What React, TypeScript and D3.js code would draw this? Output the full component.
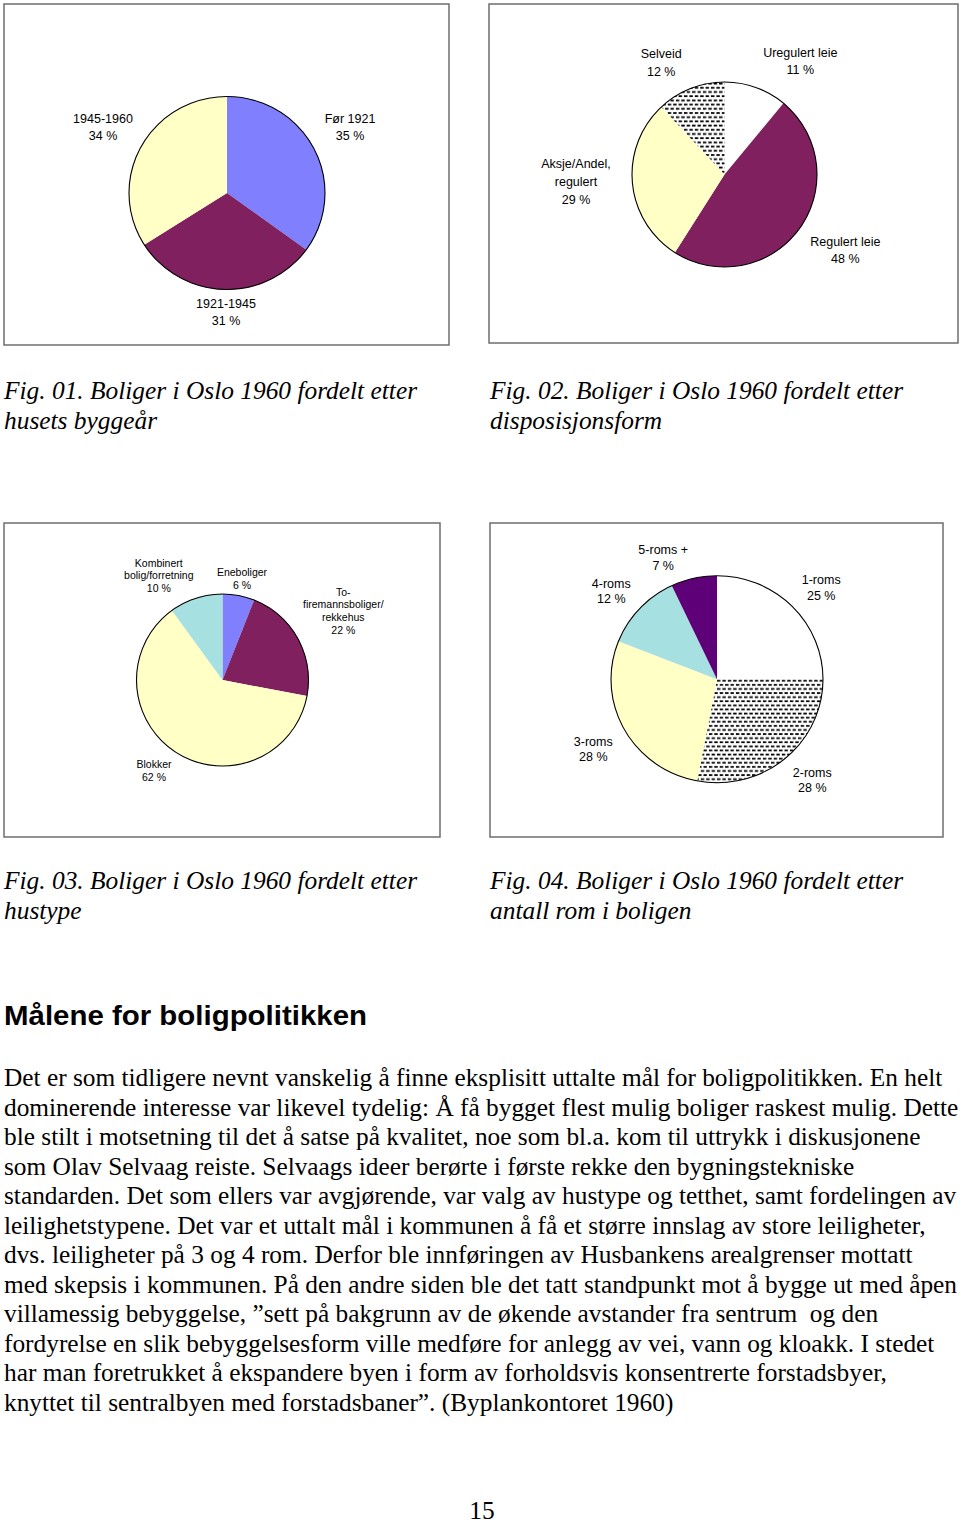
import React from "react";
import * as d3 from "d3";

// ---------- DATA ----------
const fig1Labels = ["Før 1921", "1921-1945", "1945-1960"];
const fig1Values = [35, 31, 34];

const fig2Labels = ["Uregulert leie", "Regulert leie", "Aksje/Andel,\nregulert", "Selveid"];
const fig2Values = [11, 48, 29, 12];

const fig3Labels = ["Eneboliger", "To-\nfiremannsboliger/\nrekkehus", "Blokker", "Kombinert\nbolig/forretning"];
const fig3Values = [6, 22, 62, 10];

const fig4Labels = ["1-roms", "2-roms", "3-roms", "4-roms", "5-roms +"];
const fig4Values = [25, 28, 28, 12, 7];

const captions = [
  ["Fig. 01. Boliger i Oslo 1960 fordelt etter", "husets byggeår"],
  ["Fig. 02. Boliger i Oslo 1960 fordelt etter", "disposisjonsform"],
  ["Fig. 03. Boliger i Oslo 1960 fordelt etter", "hustype"],
  ["Fig. 04. Boliger i Oslo 1960 fordelt etter", "antall rom i boligen"],
];

const heading = "Målene for boligpolitikken";
const bodyLines = [
  "Det er som tidligere nevnt vanskelig å finne eksplisitt uttalte mål for boligpolitikken. En helt",
  "dominerende interesse var likevel tydelig: Å få bygget flest mulig boliger raskest mulig. Dette",
  "ble stilt i motsetning til det å satse på kvalitet, noe som bl.a. kom til uttrykk i diskusjonene",
  "som Olav Selvaag reiste. Selvaags ideer berørte i første rekke den bygningstekniske",
  "standarden. Det som ellers var avgjørende, var valg av hustype og tetthet, samt fordelingen av",
  "leilighetstypene. Det var et uttalt mål i kommunen å få et større innslag av store leiligheter,",
  "dvs. leiligheter på 3 og 4 rom. Derfor ble innføringen av Husbankens arealgrenser mottatt",
  "med skepsis i kommunen. På den andre siden ble det tatt standpunkt mot å bygge ut med åpen",
  "villamessig bebyggelse, \u201dsett på bakgrunn av de økende avstander fra sentrum  og den",
  "fordyrelse en slik bebyggelsesform ville medføre for anlegg av vei, vann og kloakk. I stedet",
  "har man foretrukket å ekspandere byen i form av forholdsvis konsentrerte forstadsbyer,",
  "knyttet til sentralbyen med forstadsbaner\u201d. (Byplankontoret 1960)",
];
const pageNumber = "15";

// ---------- STYLE / LAYOUT ----------
const C = {
  blue: "#8080FF",
  plum: "#80205F",
  ivory: "#FFFFC6",
  turq: "#A6E0E0",
  violet: "#5E0078",
  white: "#FFFFFF",
  hatch: "url(#hatch)",
};

type PieSpec = {
  labels: string[];
  values: number[];
  colors: string[];
  frame: [number, number, number, number];
  cx: number;
  cy: number;
  rx: number;
  ry: number;
  fontSize: number;
  lineH: number;
  labelPos: [number, number][];
};

const pies: PieSpec[] = [
  {
    labels: fig1Labels, values: fig1Values,
    colors: [C.blue, C.plum, C.ivory],
    frame: [4, 4, 449, 345],
    cx: 227, cy: 193, rx: 98, ry: 96.5,
    fontSize: 12.5, lineH: 16.8,
    labelPos: [[350, 123], [226, 308.3], [103, 122.7]],
  },
  {
    labels: fig2Labels, values: fig2Values,
    colors: [C.white, C.plum, C.ivory, C.hatch],
    frame: [489, 4, 958, 343],
    cx: 724.5, cy: 174.5, rx: 92.5, ry: 92.5,
    fontSize: 12.5, lineH: 17.6,
    labelPos: [[800.3, 56.7], [845.3, 245.7], [576, 168.3], [661.2, 58.3]],
  },
  {
    labels: fig3Labels, values: fig3Values,
    colors: [C.blue, C.plum, C.ivory, C.turq],
    frame: [4, 523, 440, 837],
    cx: 222.5, cy: 680, rx: 86, ry: 86,
    fontSize: 10.5, lineH: 12.7,
    labelPos: [[242, 576], [343.3, 595.7], [154, 768.3], [158.8, 566.7]],
  },
  {
    labels: fig4Labels, values: fig4Values,
    colors: [C.white, C.hatch, C.ivory, C.turq, C.violet],
    frame: [490, 523, 943, 837],
    cx: 717, cy: 679.3, rx: 106, ry: 103.5,
    fontSize: 12.5, lineH: 15.7,
    labelPos: [[821.2, 584], [812.3, 776.7], [593.3, 745.7], [611.3, 587.7], [663.2, 554.3]],
  },
];

const captionPos: [number, number][] = [
  [4, 399], [490, 399], [4, 889], [490, 889],
];

const SANS = "'Liberation Sans', Arial, Helvetica, sans-serif";
const SERIF = "'Liberation Serif', 'Times New Roman', serif";

function Pie({ spec }: { spec: PieSpec }) {
  const pie = d3.pie<number>().sort(null).value((d) => d);
  const arcs = pie(spec.values);
  const arc = d3.arc<d3.PieArcDatum<number>>().innerRadius(0).outerRadius(spec.rx);
  const [x0, y0, x1, y1] = spec.frame;
  const sy = spec.ry / spec.rx;
  return (
    <g>
      <rect x={x0} y={y0} width={x1 - x0} height={y1 - y0} fill="#fff" stroke="#6e6e6e" strokeWidth={1.5} />
      <g transform={`translate(${spec.cx},${spec.cy}) scale(1,${sy})`}>
        {arcs.map((a, i) => (
          <path key={i} d={arc(a) || ""} fill={spec.colors[i]} stroke="none" />
        ))}
        <circle r={spec.rx} fill="none" stroke="#000" strokeWidth={1.1} />
      </g>
      {spec.labels.map((lab, i) => {
        const lines = lab.split("\n").concat([`${spec.values[i]} %`]);
        const [lx, ly] = spec.labelPos[i];
        return (
          <text key={i} x={lx} y={ly} textAnchor="middle" fontFamily={SANS} fontSize={spec.fontSize} fill="#000">
            {lines.map((ln, j) => (
              <tspan key={j} x={lx} y={ly + j * spec.lineH}>{ln}</tspan>
            ))}
          </text>
        );
      })}
    </g>
  );
}

export default function App() {
  return (
    <svg width={960} height={1523} viewBox="0 0 960 1523" style={{ position: "absolute", left: 0, top: 0, background: "#fff" }}>
      <defs>
        <pattern id="hatch" patternUnits="userSpaceOnUse" width={5.4} height={8.4}>
          <rect x={0} y={0} width={5.4} height={8.4} fill="#fff" />
          <rect x={0} y={0.6} width={3.4} height={1.8} fill="#000" />
          <rect x={2.7} y={4.8} width={3.4} height={1.8} fill="#000" />
          <rect x={-2.7} y={4.8} width={3.4} height={1.8} fill="#000" />
        </pattern>
      </defs>
      <rect x={0} y={0} width={960} height={1523} fill="#fff" />
      {pies.map((p, i) => <Pie key={i} spec={p} />)}
      {captions.map((cap, i) => (
        <text key={i} fontFamily={SERIF} fontStyle="italic" fontSize={25.4} fill="#000">
          {cap.map((ln, j) => (
            <tspan key={j} x={captionPos[i][0]} y={captionPos[i][1] + j * 30}>{ln}</tspan>
          ))}
        </text>
      ))}
      <text x={4} y={1025} fontFamily={SANS} fontWeight="bold" fontSize={28} textLength={363} lengthAdjust="spacingAndGlyphs" fill="#000">{heading}</text>
      {bodyLines.map((ln, i) => (
        <text key={i} x={4} y={1086 + i * 29.5} fontFamily={SERIF} fontSize={25.35} fill="#000" style={{ whiteSpace: "pre" }}>{ln}</text>
      ))}
      <text x={482} y={1519} textAnchor="middle" fontFamily={SERIF} fontSize={25.4} fill="#000">{pageNumber}</text>
    </svg>
  );
}
